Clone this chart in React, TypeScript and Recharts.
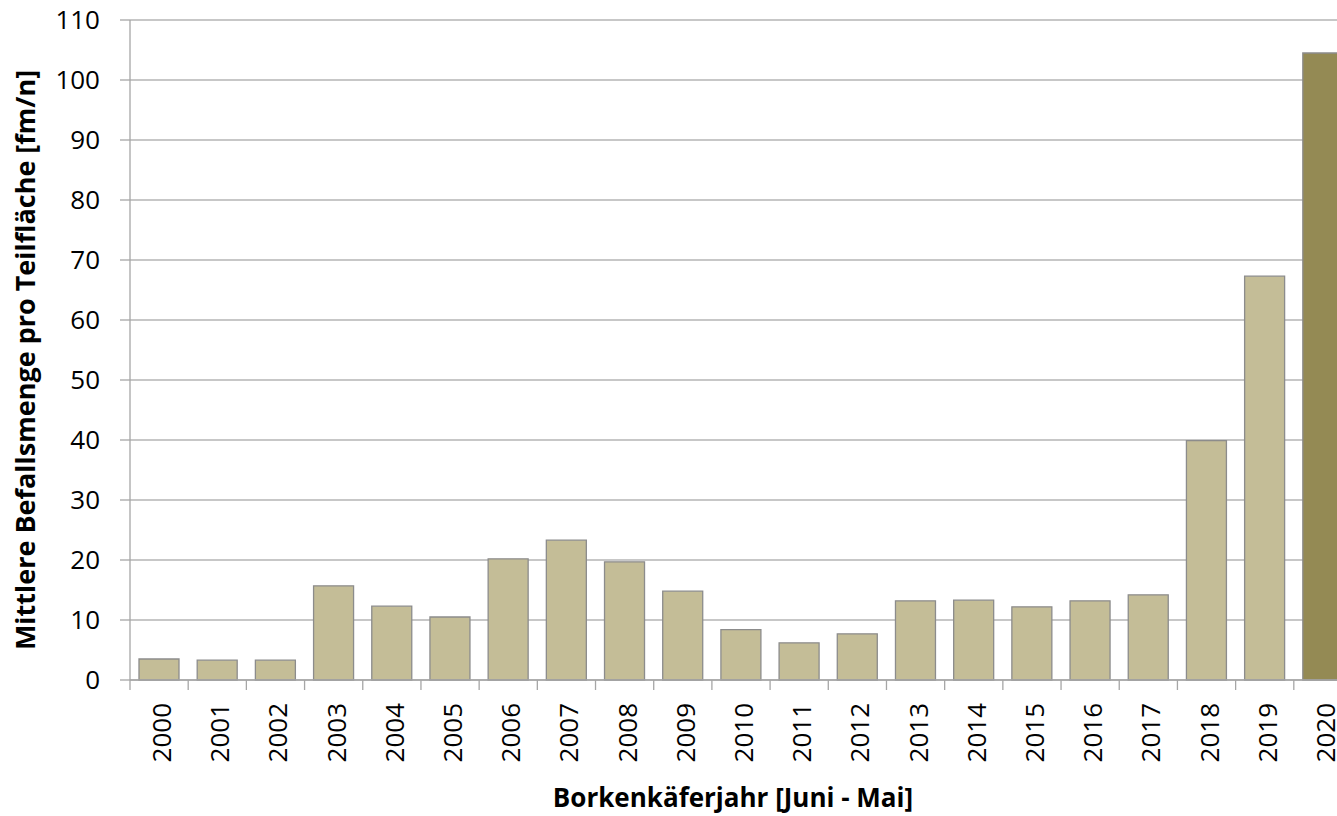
import React from 'react';
import { BarChart, Bar, XAxis, YAxis, CartesianGrid, Cell, Label } from 'recharts';

const years = ['2000', '2001', '2002', '2003', '2004', '2005', '2006', '2007', '2008', '2009', '2010',
    '2011', '2012', '2013', '2014', '2015', '2016', '2017', '2018', '2019', '2020'];
const befall = [3.5, 3.3, 3.3, 15.7, 12.3, 10.5, 20.2, 23.3, 19.7, 14.8, 8.4,
    6.2, 7.7, 13.2, 13.3, 12.2, 13.2, 14.2, 39.9, 67.3, 104.5];
const yTicks = [0, 10, 20, 30, 40, 50, 60, 70, 80, 90, 100, 110];

const data = years.map((year, i) => ({ year, value: befall[i] }));

const FONT = '"Open Sans", sans-serif';
const AXIS = '#a6a6a6';

// year label plus a tick mark on the left edge of its column (Excel style)
function YearTick(props: any) {
    const { x, y, payload } = props;
    const half = payload.offset || 0;
    const axisY = y - 8;
    return (
        <g>
            <line x1={x - half} x2={x - half} y1={axisY} y2={axisY + 10} stroke={AXIS} strokeWidth={1.3} />
            <g transform={`translate(${x + 12},${y + 15}) rotate(-90)`}>
                <text x={0} y={0} textAnchor="end" fontSize={26} fontFamily={FONT} fill="#000">
                    {payload.value}
                </text>
            </g>
        </g>
    );
}

export default function App() {
    return (
        <div style={{ position: 'absolute', left: 0, top: 0, width: 1337, height: 816, overflow: 'hidden', background: '#fff' }}>
            <BarChart width={1352} height={816} data={data} margin={{ top: 20, right: 0, bottom: 0, left: 0 }}>
                <CartesianGrid vertical={false} stroke="#b4b4b4" strokeWidth={1.3} />
                <XAxis
                    dataKey="year"
                    height={136}
                    stroke={AXIS}
                    strokeWidth={1.3}
                    tickLine={false}
                    interval={0}
                    tick={<YearTick />}
                >
                    <Label
                        value="Borkenkäferjahr [Juni - Mai]"
                        position="insideBottom"
                        offset={9}
                        dx={-8}
                        style={{ fontFamily: FONT, fontSize: 26, fontWeight: 700, fill: '#000' }}
                    />
                </XAxis>
                <YAxis
                    width={130}
                    domain={[0, 110]}
                    ticks={yTicks}
                    interval={0}
                    tickSize={10}
                    tickMargin={20}
                    stroke={AXIS}
                    strokeWidth={1.3}
                    tick={{ fontFamily: FONT, fontSize: 26, fill: '#000' }}
                >
                    <Label
                        value="Mittlere Befallsmenge pro Teilfläche [fm/n]"
                        angle={-90}
                        position="insideLeft"
                        offset={25}
                        dy={10}
                        style={{ textAnchor: 'middle', fontFamily: FONT, fontSize: 27, fontWeight: 700, fill: '#000' }}
                    />
                </YAxis>
                <Bar dataKey="value" barSize={40} fill="#C4BD97" stroke="#8c8c8c" strokeWidth={1.3} isAnimationActive={false}>
                    {data.map((d, i) => (
                        <Cell key={d.year} fill={i === data.length - 1 ? '#948A54' : '#C4BD97'} />
                    ))}
                </Bar>
            </BarChart>
        </div>
    );
}
